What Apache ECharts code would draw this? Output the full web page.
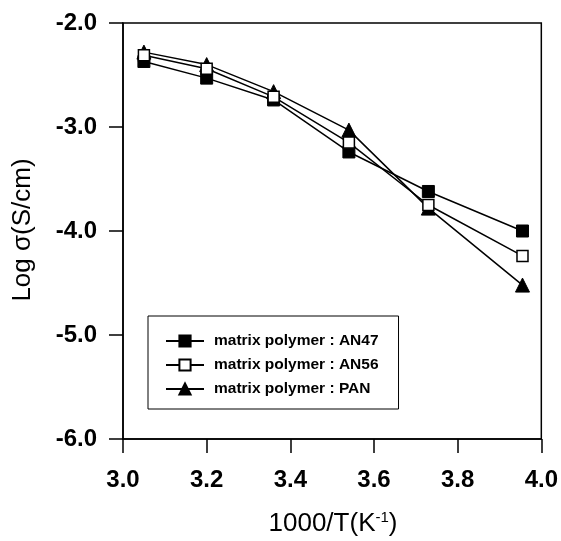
<!DOCTYPE html>
<html>
<head>
<meta charset="utf-8">
<script src="https://cdn.jsdelivr.net/npm/echarts@6/dist/echarts.min.js"></script>
<style>html,body{margin:0;padding:0;background:#fff}#c{width:561px;height:541px}</style>
</head>
<body>
<div id="c"></div>
<script>
const xValues = [3.05, 3.2, 3.36, 3.54, 3.73, 3.955];
const an47 = [-2.37, -2.53, -2.74, -3.24, -3.62, -4.00];
const an56 = [-2.31, -2.44, -2.71, -3.15, -3.75, -4.24];
const pan = [-2.28, -2.40, -2.66, -3.03, -3.78, -4.52];
const seriesNames = ['matrix polymer : AN47', 'matrix polymer : AN56', 'matrix polymer : PAN'];
const xTitle = '1000/T(K{sup|-1})';
const yTitle = 'Log σ(S/cm)';

const pair = (ys) => xValues.map((x, i) => [x, ys[i]]);
const chart = echarts.init(document.getElementById('c'), null, {renderer: 'canvas'});
const lineStyle = {color: '#000', width: 1.5};
const font = 'Liberation Sans, Arial, sans-serif';
chart.setOption({
  animation: false,
  backgroundColor: '#fff',
  grid: {left: 123, top: 23, right: 19, bottom: 102, show: true, borderColor: '#000', borderWidth: 1.5},
  xAxis: {
    type: 'value', min: 3.0, max: 4.0, interval: 0.2,
    axisLine: {show: true, lineStyle: {color: '#000', width: 1.5}},
    axisTick: {show: true, inside: false, length: 14, lineStyle: {color: '#000', width: 1.5}},
    splitLine: {show: false},
    axisLabel: {color: '#000', fontSize: 24, fontWeight: 'bold', fontFamily: font, margin: 29,
      formatter: v => v.toFixed(1)}
  },
  yAxis: {
    type: 'value', min: -6.0, max: -2.0, interval: 1.0,
    axisLine: {show: true, lineStyle: {color: '#000', width: 1.5}},
    axisTick: {show: true, inside: false, length: 14, lineStyle: {color: '#000', width: 1.5}},
    splitLine: {show: false},
    axisLabel: {color: '#000', fontSize: 24, fontWeight: 'bold', fontFamily: font, margin: 26,
      formatter: v => v.toFixed(1)}
  },
  legend: {
    orient: 'vertical', left: 148, top: 316,
    padding: [17, 20, 12, 17], itemGap: 8, itemWidth: 38, itemHeight: 14,
    borderColor: '#000', borderWidth: 1, backgroundColor: '#fff',
    textStyle: {color: '#000', fontSize: 15.5, fontWeight: 'bold', fontFamily: font, padding: [0, 0, 0, 5]},
    data: seriesNames
  },
  graphic: [
    {type: 'text', x: 333, y: 524, style: {
      text: xTitle, fill: '#000', font: '26px ' + font, textAlign: 'center', textVerticalAlign: 'middle',
      rich: {sup: {fontSize: 15, verticalAlign: 'top', padding: [0, 0, 12, 0]}}}},
    {type: 'text', x: 23, y: 230, rotation: Math.PI / 2, style: {
      text: yTitle, fill: '#000', font: '26px ' + font, textAlign: 'center', textVerticalAlign: 'middle'}}
  ],
  series: [
    {name: seriesNames[0], type: 'line', data: pair(an47), symbol: 'rect', symbolSize: 12,
      lineStyle: lineStyle, itemStyle: {color: '#000', borderColor: '#000', borderWidth: 1}, z: 3},
    {name: seriesNames[1], type: 'line', data: pair(an56), symbol: 'rect', symbolSize: 11,
      lineStyle: lineStyle, itemStyle: {color: '#fff', borderColor: '#000', borderWidth: 1.5}, z: 4},
    {name: seriesNames[2], type: 'line', data: pair(pan), symbol: 'triangle', symbolSize: 14,
      lineStyle: lineStyle, itemStyle: {color: '#000', borderColor: '#000', borderWidth: 1}, z: 2}
  ]
});
</script>
</body>
</html>
